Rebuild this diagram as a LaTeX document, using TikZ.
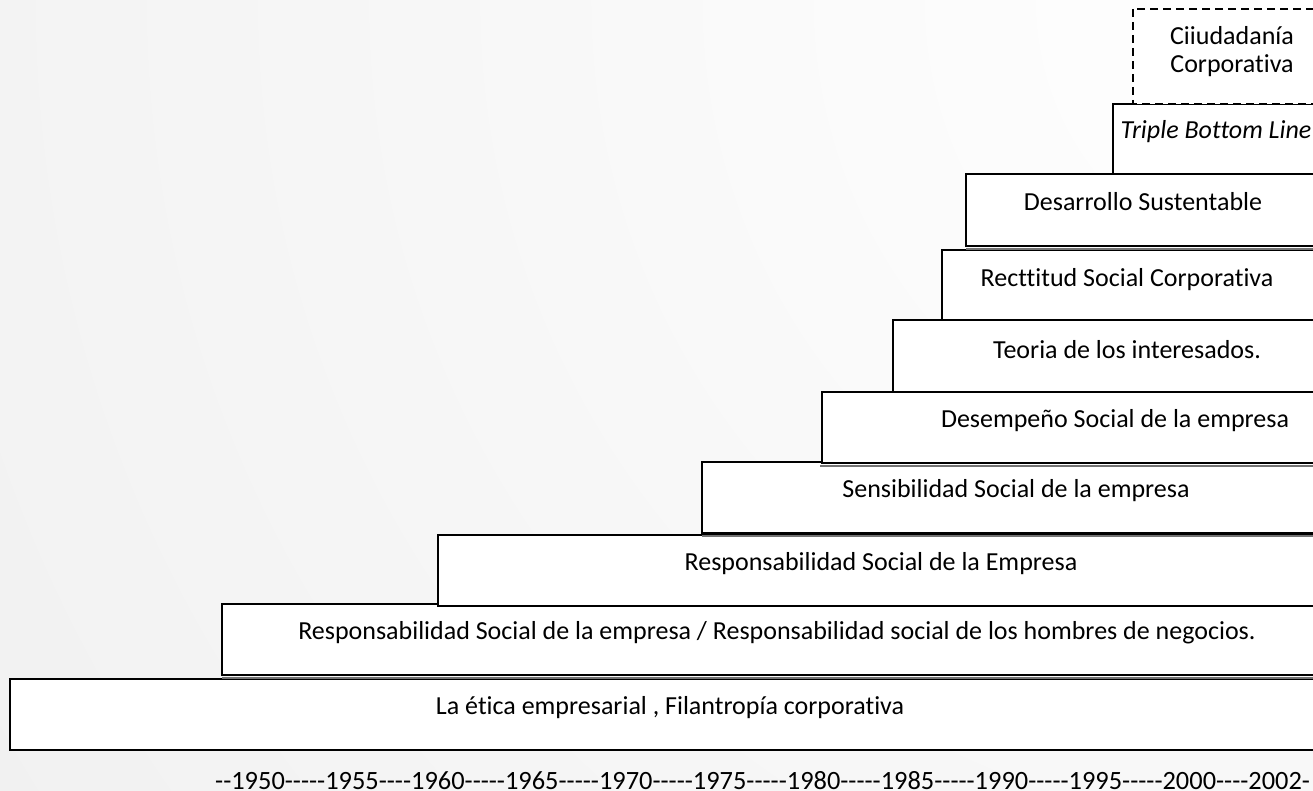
\documentclass[tikz,border=0pt]{standalone}
\usepackage{fontspec}
\setmainfont{Carlito}[Ligatures={CommonOff}]
\newcommand\hy{-\kern0pt}
\begin{document}
\begin{tikzpicture}[x=1pt,y=-1pt,
  stair/.style={draw=black,line width=2pt,fill=white},
  dstair/.style={draw=black,line width=1.8pt,fill=white,dash pattern=on 8pt off 5pt},
  shadowline/.style={draw=black!55,line width=1.2pt},
  lbl/.style={font=\fontsize{26}{31}\selectfont,inner sep=0pt,align=center}]
\useasboundingbox (0,0) rectangle (1313,791);
\clip (0,0) rectangle (1313,791);
\shade[inner color=white,outer color={rgb,255:red,228;green,228;blue,228}] (1313,0) circle (3000);
% boxes from bottom to top
\draw[stair] (10,679) rectangle (1330,750);
\node[lbl] (b10) at (670,708) {La ética empresarial , Filantropía corporativa};
\draw[shadowline] (222,678) -- (1330,678);
\draw[stair] (222,604) rectangle (1330,675);
\node[lbl] (b9) at (777,633) {Responsabilidad Social de la empresa / Responsabilidad social de los hombres de negocios.};
\draw[stair] (438,535) rectangle (1330,606);
\node[lbl] (b8) at (881,564) {Responsabilidad Social de la Empresa};
\draw[shadowline] (702,536) -- (1330,536);
\draw[stair] (702,462) rectangle (1330,533);
\node[lbl] (b7) at (1016,491) {Sensibilidad Social de la empresa};
\draw[shadowline] (820,466) -- (1330,466);
\draw[stair] (822,392) rectangle (1330,463);
\node[lbl] (b6) at (1115,421) {Desempeño Social de la empresa};
\draw[stair] (893,320) rectangle (1330,392);
\node[lbl] (b5) at (1127,350) {Teoria de los interesados.};
\draw[stair] (942,250) rectangle (1330,320);
\node[lbl] (b4) at (1127,280) {Recttitud Social Corporativa};
\draw[shadowline] (966,249) -- (1330,249);
\draw[stair] (966,174) rectangle (1330,246);
\node[lbl] (b3) at (1143,202) {Desarrollo Sustentable};
\draw[stair] (1113,104) rectangle (1330,174);
\node[lbl,font=\fontsize{26}{31}\selectfont\itshape] (b2) at (1216,132) {Triple Bottom Line};
\draw[dstair] (1133,9) rectangle (1330,104);
\node[lbl] (b1a) at (1232,36) {Ciiudadanía};
\node[lbl] (b1b) at (1232,66) {Corporativa};
\node[lbl,font=\fontsize{26.4}{31}\selectfont,anchor=base west] (tl) at (215,789) {\hy\hy1950\hy\hy\hy\hy\hy1955\hy\hy\hy\hy1960\hy\hy\hy\hy\hy1965\hy\hy\hy\hy\hy1970\hy\hy\hy\hy\hy1975\hy\hy\hy\hy\hy1980\hy\hy\hy\hy\hy1985\hy\hy\hy\hy\hy1990\hy\hy\hy\hy\hy1995\hy\hy\hy\hy\hy2000\hy\hy\hy\hy2002-};
\end{tikzpicture}
\end{document}
